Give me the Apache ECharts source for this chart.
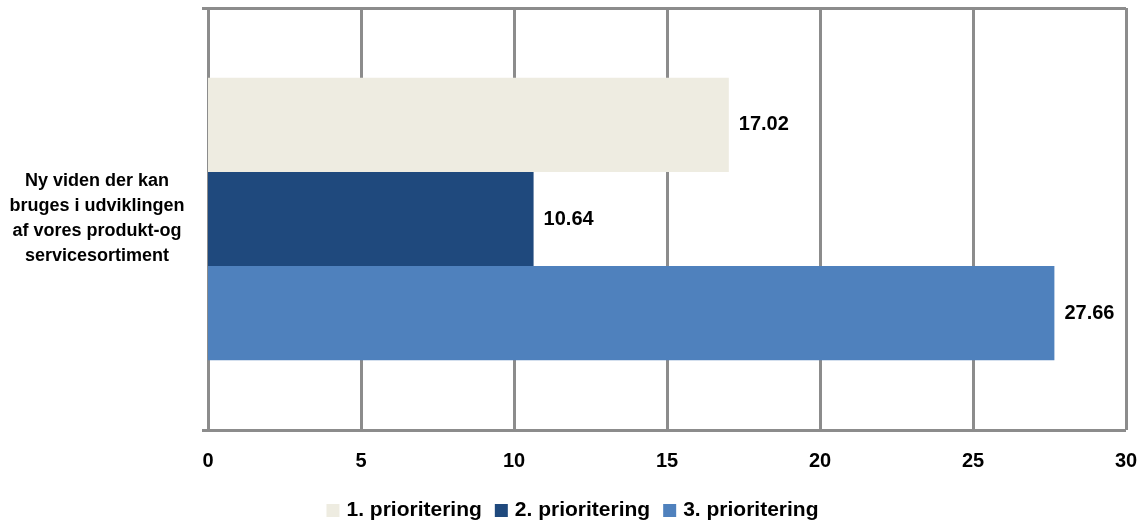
<!DOCTYPE html>
<html>
<head>
<meta charset="utf-8">
<script src="https://cdn.jsdelivr.net/npm/echarts@6/dist/echarts.min.js"></script>
<style>
html,body{margin:0;padding:0;background:#fff;}
#c{width:1145px;height:524px;}
</style>
</head>
<body>
<div id="c"></div>
<script>
var categories = ['Ny viden der kan\nbruges i udviklingen\naf vores produkt-og\nservicesortiment'];
var seriesNames = ['1. prioritering', '2. prioritering', '3. prioritering'];
var prio1 = [17.02];
var prio2 = [10.64];
var prio3 = [27.66];
var xTicks = [0, 5, 10, 15, 20, 25, 30];

var colors = ['#EEECE1', '#1F497D', '#4F81BD'];
var FONT = '"Liberation Sans", Arial, sans-serif';
var grey = '#8C8C8C';

function mk(name, data, color) {
  return {
    name: name,
    type: 'bar',
    data: data,
    barGap: '0%',
    barCategoryGap: '33%',
    itemStyle: { color: color },
    label: {
      show: true,
      position: 'right',
      distance: 10,
      formatter: function (p) { return p.value.toFixed(2); },
      color: '#000',
      fontFamily: FONT,
      fontWeight: 'bold',
      fontSize: 20
    }
  };
}

var chart = echarts.init(document.getElementById('c'), null, { renderer: 'canvas' });
chart.setOption({
  animation: false,
  backgroundColor: '#fff',
  color: colors,
  grid: { left: 208, right: 19, top: 8, bottom: 94, containLabel: false },
  xAxis: {
    type: 'value',
    min: xTicks[0],
    max: xTicks[xTicks.length - 1],
    interval: 5,
    axisLine: { show: false },
    axisTick: { show: false },
    splitLine: { show: true, lineStyle: { color: grey, width: 3 } },
    axisLabel: {
      margin: 21,
      color: '#000',
      fontFamily: FONT,
      fontWeight: 'bold',
      fontSize: 20
    }
  },
  yAxis: {
    type: 'category',
    data: categories,
    inverse: true,
    axisLine: { show: false },
    axisTick: { show: true, length: 6, lineStyle: { color: grey, width: 3 } },
    splitLine: { show: true, lineStyle: { color: grey, width: 3 } },
    axisLabel: {
      margin: 111,
      align: 'center',
      color: '#000',
      fontFamily: FONT,
      fontWeight: 'bold',
      fontSize: 18,
      lineHeight: 25
    }
  },
  legend: {
    data: seriesNames,
    left: 'center',
    top: 495,
    itemWidth: 13,
    itemHeight: 13,
    itemGap: 13,
    icon: 'rect',
    textStyle: {
      color: '#000',
      fontFamily: FONT,
      fontWeight: 'bold',
      fontSize: 21,
      padding: [0, 0, 0, 2]
    }
  },
  series: [
    mk(seriesNames[0], prio1, colors[0]),
    mk(seriesNames[1], prio2, colors[1]),
    mk(seriesNames[2], prio3, colors[2])
  ]
});
</script>
</body>
</html>
